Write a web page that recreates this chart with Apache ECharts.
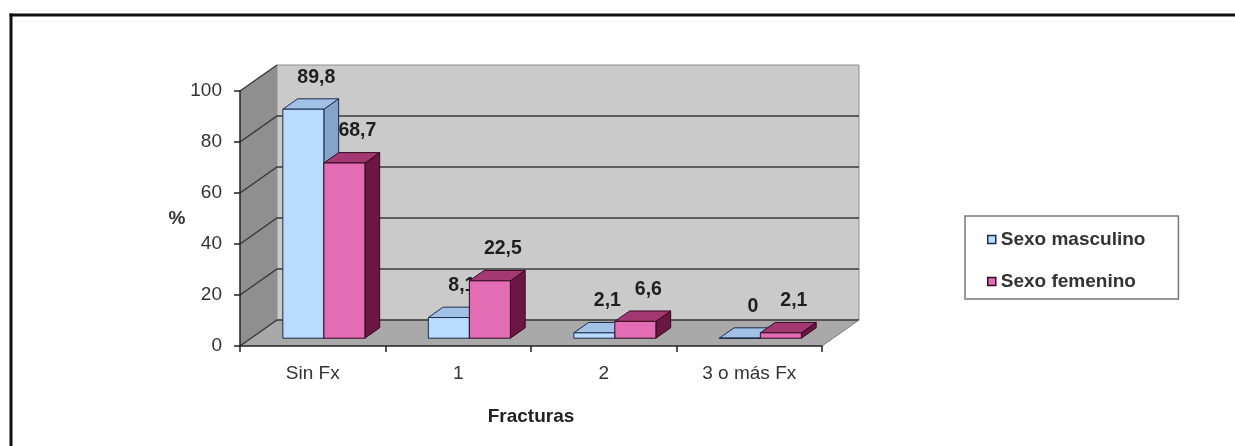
<!DOCTYPE html>
<html>
<head>
<meta charset="utf-8">
<script src="https://cdn.jsdelivr.net/npm/echarts@6/dist/echarts.min.js"></script>
<style>
  html, body { margin: 0; padding: 0; background: #ffffff; }
  #chart { width: 1235px; height: 446px; }
</style>
</head>
<body>
<div id="chart"></div>
<script>
// Fracturas por sexo (%)
const categories = ['Sin Fx', '1', '2', '3 o más Fx'];
const masculino = [89.8, 8.1, 2.1, 0];
const femenino = [68.7, 22.5, 6.6, 2.1];
const yTicks = [0, 20, 40, 60, 80, 100];
const seriesNames = ['Sexo masculino', 'Sexo femenino'];

const FONT = "Arial, 'Liberation Sans', sans-serif";
// depth of the 3D box, in pixels
const DX = 37, DY = -26;
// bars occupy this slice of the depth
const BAR_FRONT = 0.3, BAR_BACK = 0.7;
// width of one bar as a share of the category band
const BAR_FRAC = 0.282;

const palette = [
  { front: '#b9dbff', top: '#a2c1e6', side: '#86a3c9', edge: '#1d2b4c' },
  { front: '#e36db4', top: '#a43873', side: '#6b1743', edge: '#33091f' }
];

function fmt(v) { return String(v).replace('.', ','); }

// walls, floor and grid lines of the 3D box
function renderWalls(params, api) {
  const cs = params.coordSys;
  const x0 = cs.x, x1 = cs.x + cs.width;
  const yTop = cs.y, yBot = cs.y + cs.height;
  const children = [];
  children.push({ type: 'polygon',
    shape: { points: [[x0, yTop], [x0 + DX, yTop + DY], [x0 + DX, yBot + DY], [x0, yBot]] },
    style: { fill: '#8f8f8f' } });
  children.push({ type: 'polygon',
    shape: { points: [[x0, yBot], [x0 + DX, yBot + DY], [x1 + DX, yBot + DY], [x1, yBot]] },
    style: { fill: '#a9a9a9' } });
  children.push({ type: 'rect',
    shape: { x: x0 + DX, y: yTop + DY, width: cs.width, height: cs.height },
    style: { fill: '#cacaca', stroke: '#8f8f8f', lineWidth: 1 } });
  yTicks.forEach(function (t) {
    const y = api.coord([0, t])[1];
    const pts = t === 100
      ? [[x0, y], [x0 + DX, y + DY]]
      : [[x0, y], [x0 + DX, y + DY], [x1 + DX, y + DY]];
    children.push({ type: 'polyline', shape: { points: pts },
      style: { stroke: '#3a3a3a', lineWidth: 1.5, fill: null } });
  });
  children.push({ type: 'line', shape: { x1: x1, y1: yBot, x2: x1 + DX, y2: yBot + DY },
    style: { stroke: '#7a7a7a', lineWidth: 1 } });
  return { type: 'group', children: children };
}

// one 3D bar with its value label
function barRenderer(si) {
  const c = palette[si];
  return function (params, api) {
    const i = api.value(0), v = api.value(1);
    const base = api.coord([i, 0]);
    const top = api.coord([i, v]);
    const w = api.size([1, 0])[0] * BAR_FRAC;
    const fx = base[0] + BAR_FRONT * DX + (si - 1) * w;
    const fyB = base[1] + BAR_FRONT * DY;
    const fyT = top[1] + BAR_FRONT * DY;
    const ddx = (BAR_BACK - BAR_FRONT) * DX, ddy = (BAR_BACK - BAR_FRONT) * DY;
    const edge = { stroke: c.edge, lineWidth: 1, lineJoin: 'round' };
    return { type: 'group', children: [
      { type: 'polygon',
        shape: { points: [[fx + w, fyT], [fx + w + ddx, fyT + ddy], [fx + w + ddx, fyB + ddy], [fx + w, fyB]] },
        style: Object.assign({ fill: c.side }, edge) },
      { type: 'polygon',
        shape: { points: [[fx, fyT], [fx + w, fyT], [fx + w + ddx, fyT + ddy], [fx + ddx, fyT + ddy]] },
        style: Object.assign({ fill: c.top }, edge) },
      { type: 'rect', shape: { x: fx, y: fyT, width: w, height: fyB - fyT },
        style: Object.assign({ fill: c.front }, edge) },
      { type: 'text', x: fx + w / 2 + 13, y: fyT - 32,
        style: { text: fmt(v), fill: '#1e1e1e', fontFamily: FONT, fontSize: 19.5,
                 fontWeight: 'bold', align: 'center', verticalAlign: 'middle' } }
    ] };
  };
}

const chart = echarts.init(document.getElementById('chart'), null, { renderer: 'canvas' });
chart.setOption({
  animation: false,
  backgroundColor: '#ffffff',
  grid: { left: 240, right: 413, top: 91, bottom: 100, containLabel: false },
  xAxis: {
    type: 'category', data: categories, boundaryGap: true, z: 10,
    axisLine: { show: true, lineStyle: { color: '#222', width: 1.5 } },
    axisTick: { show: true, length: 6, lineStyle: { color: '#222', width: 1.5 } },
    axisLabel: { margin: 18, fontFamily: FONT, fontSize: 19, color: '#333' },
    splitLine: { show: false },
    name: 'Fracturas', nameLocation: 'middle', nameGap: 61,
    nameTextStyle: { fontFamily: FONT, fontSize: 19, fontWeight: 'bold', color: '#222' }
  },
  yAxis: {
    type: 'value', min: 0, max: 100, interval: 20, z: 10,
    axisLine: { show: true, lineStyle: { color: '#222', width: 1.5 } },
    axisTick: { show: true, length: 6, lineStyle: { color: '#222', width: 1.5 } },
    axisLabel: { margin: 18, fontFamily: FONT, fontSize: 19, color: '#333' },
    splitLine: { show: false },
    name: '%', nameLocation: 'middle', nameRotate: 0, nameGap: 38,
    nameTextStyle: { fontFamily: FONT, fontSize: 19, fontWeight: 'bold', color: '#333' }
  },
  legend: {
    orient: 'vertical', left: 965, top: 216,
    padding: [14, 33, 8, 22], itemGap: 23, itemWidth: 8, itemHeight: 8,
    borderColor: '#777', borderWidth: 1.5, backgroundColor: '#fff',
    selectedMode: false,
    textStyle: { fontFamily: FONT, fontSize: 19, fontWeight: 'bold', color: '#333' },
    data: seriesNames.map(function (n, k) {
      return { name: n, icon: 'rect',
        itemStyle: { color: palette[k].front, borderColor: palette[k].edge, borderWidth: 1.5 } };
    })
  },
  graphic: [
    { type: 'line', shape: { x1: 9.5, y1: 15, x2: 1235, y2: 15 }, style: { stroke: '#111', lineWidth: 3 } },
    { type: 'line', shape: { x1: 11, y1: 13.5, x2: 11, y2: 446 }, style: { stroke: '#111', lineWidth: 3 } }
  ],
  series: [
    { type: 'custom', name: 'walls', silent: true, renderItem: renderWalls, data: [[0, 0]],
      encode: { x: 0, y: 1 }, z: 1 },
    { type: 'custom', name: seriesNames[0], silent: true, renderItem: barRenderer(0),
      itemStyle: { color: palette[0].front },
      data: masculino.map(function (v, i) { return [i, v]; }), encode: { x: 0, y: 1 }, z: 2 },
    { type: 'custom', name: seriesNames[1], silent: true, renderItem: barRenderer(1),
      itemStyle: { color: palette[1].front },
      data: femenino.map(function (v, i) { return [i, v]; }), encode: { x: 0, y: 1 }, z: 2 }
  ]
});
</script>
</body>
</html>
